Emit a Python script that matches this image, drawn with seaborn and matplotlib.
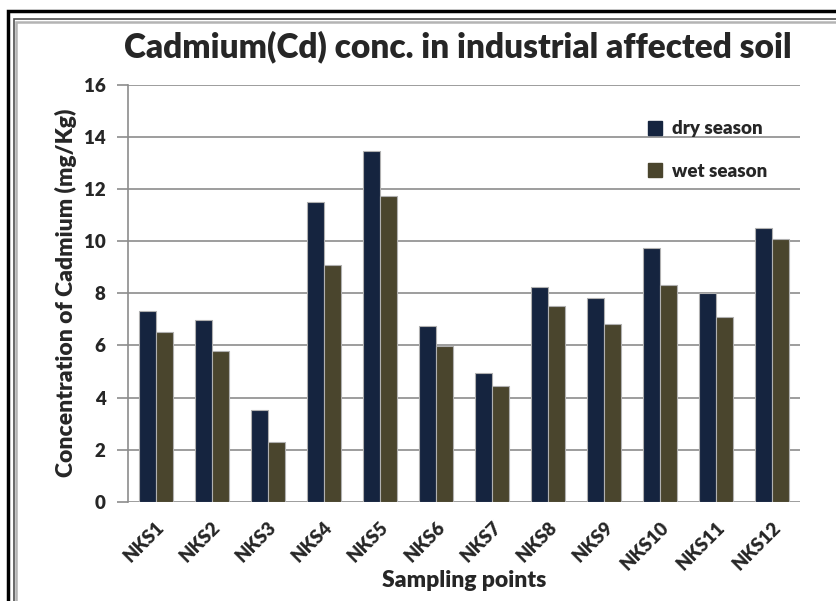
import matplotlib
matplotlib.use("Agg")
import matplotlib.pyplot as plt
import pandas as pd
import seaborn as sns
from matplotlib.lines import Line2D
from matplotlib.patches import Rectangle

SITES = ["NKS1", "NKS2", "NKS3", "NKS4", "NKS5", "NKS6",
         "NKS7", "NKS8", "NKS9", "NKS10", "NKS11", "NKS12"]
DRY = [7.32, 6.97, 3.54, 11.52, 13.44, 6.76, 4.96, 8.24, 7.81, 9.74, 8.01, 10.52]
WET = [6.53, 5.77, 2.30, 9.10, 11.73, 5.97, 4.45, 7.51, 6.81, 8.32, 7.09, 10.10]
SEASONS = ["dry season", "wet season"]
COLORS = ["#15243f", "#4a452d"]
Y_TICKS = [0, 2, 4, 6, 8, 10, 12, 14, 16]

df = pd.DataFrame({
    "site": SITES * 2,
    "season": [SEASONS[0]] * len(SITES) + [SEASONS[1]] * len(SITES),
    "value": DRY + WET,
})

sns.set_theme(style="white")
plt.rcParams["font.family"] = ["Lato", "DejaVu Sans"]
W = "heavy"

fig = plt.figure(figsize=(8.36, 6.01), dpi=100)
ax = fig.add_axes([0.153, 0.165, 0.804, 0.694])

sns.barplot(data=df, x="site", y="value", hue="season", palette=COLORS,
            width=0.6, gap=0, edgecolor="#b0b0b0", linewidth=0.8,
            saturation=1, legend=False, ax=ax, zorder=3)

ax.set_ylim(0, 16)
ax.set_yticks(Y_TICKS)
ax.set_yticklabels([str(t) for t in Y_TICKS], fontsize=13.5, fontweight=W)
ax.set_xlim(-0.5, len(SITES) - 0.5)
ax.yaxis.grid(True, color="#8c8c8c", linewidth=1.2, zorder=0)
ax.set_axisbelow(True)
for side in ["top", "right", "bottom"]:
    ax.spines[side].set_visible(False)
ax.spines["left"].set_color("#8c8c8c")
ax.spines["left"].set_linewidth(1.2)
ax.tick_params(axis="y", which="major", direction="out", length=8, width=1.2,
               color="#8c8c8c", pad=8, left=True)
ax.tick_params(axis="x", length=0, pad=12)
ax.set_xticks(range(len(SITES)))
ax.set_xticklabels(SITES, rotation=45, ha="right", rotation_mode="anchor",
                   fontsize=13.5, fontweight=W)

ax.set_xlabel("Sampling points", fontsize=16.5, fontweight=W, labelpad=-2)
ax.set_ylabel("Concentration of Cadmium (mg/Kg)", fontsize=16.5,
              fontweight=W, labelpad=5)
fig.text(0.548, 0.922, "Cadmium(Cd) conc. in industrial affected soil",
         ha="center", va="center", fontsize=24, fontweight=W)

handles = [Line2D([], [], marker="s", linestyle="", markersize=10,
                  markerfacecolor=c, markeredgecolor=c) for c in COLORS]
ax.legend(handles, SEASONS, loc="upper left", bbox_to_anchor=(0.745, 0.955),
          frameon=False, prop={"weight": W, "size": 13.5},
          labelspacing=1.35, handletextpad=0.4, handlelength=1.0)

# picture frame: black outer line and grey inner double line
fig.patches.append(Rectangle((8 / 836, -0.1), 1.2, 1.1 - 11 / 601,
                             transform=fig.transFigure, fill=False,
                             edgecolor="black", linewidth=2.5))
fig.patches.append(Rectangle((13.5 / 836, -0.1), 1.2, 1.1 - 19 / 601,
                             transform=fig.transFigure, fill=False,
                             edgecolor="#505050", linewidth=1.2))
fig.patches.append(Rectangle((16 / 836, -0.1), 1.2, 1.1 - 21.5 / 601,
                             transform=fig.transFigure, fill=False,
                             edgecolor="#b4b4b4", linewidth=1.8))

fig.savefig("out.png", dpi=100)
